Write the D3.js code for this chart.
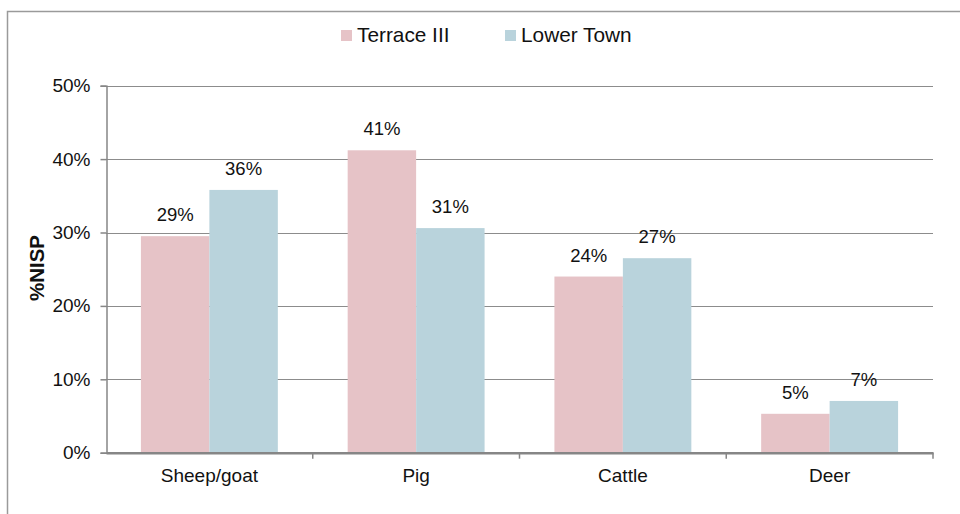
<!DOCTYPE html>
<html>
<head>
<meta charset="utf-8">
<script src="https://cdn.jsdelivr.net/npm/d3@7"></script>
<style>
  body { margin: 0; background: #fff; }
  svg { display: block; font-family: "Liberation Sans", Arial, sans-serif; }
</style>
</head>
<body>
<svg id="chart" width="960" height="514"></svg>
<script>
const categories = ['Sheep/goat', 'Pig', 'Cattle', 'Deer']
const seriesNames = ['Terrace III', 'Lower Town']
const terrace = [29.5, 41.2, 24.0, 5.3]
const lowerTown = [35.8, 30.6, 26.5, 7.05]
const terraceLabels = ['29%', '41%', '24%', '5%']
const lowerLabels = ['36%', '31%', '27%', '7%']
const yTicks = [0, 10, 20, 30, 40, 50]

const colors = ['#e6c3c7', '#b9d3dc']
const svg = d3.select('#chart')

// outer chart frame (runs off the right and bottom edges)
svg.append('rect')
  .attr('x', 7.5).attr('y', 11.5).attr('width', 1000).attr('height', 600)
  .attr('fill', 'none').attr('stroke', '#9a9a9a').attr('stroke-width', 1.5)

const plotLeft = 106
const plotRight = 933
const plotTop = 85.7
const plotBottom = 452.7

const x = d3.scaleBand().domain(categories).range([plotLeft, plotRight]).paddingInner(0).paddingOuter(0)
const x1 = d3.scaleBand().domain(seriesNames).range([0, x.bandwidth()]).paddingInner(0).paddingOuter(0.51)
const y = d3.scaleLinear().domain([0, 50]).range([plotBottom, plotTop])

// gridlines
svg.append('g')
  .selectAll('line')
  .data(yTicks.filter(d => d > 0))
  .enter().append('line')
  .attr('x1', plotLeft).attr('x2', plotRight)
  .attr('y1', d => Math.round(y(d)) + 0.5).attr('y2', d => Math.round(y(d)) + 0.5)
  .attr('stroke', '#8c8c8c').attr('stroke-width', 1)

// bars
const rows = categories.map((c, i) => ({ cat: c, vals: [terrace[i], lowerTown[i]], labels: [terraceLabels[i], lowerLabels[i]] }))
const groups = svg.append('g').selectAll('g')
  .data(rows).enter().append('g')
  .attr('transform', d => `translate(${x(d.cat)},0)`)

groups.selectAll('rect')
  .data(d => d.vals.map((v, j) => ({ s: seriesNames[j], v, j })))
  .enter().append('rect')
  .attr('x', d => x1(d.s))
  .attr('width', x1.bandwidth())
  .attr('y', d => y(d.v))
  .attr('height', d => y(0) - y(d.v))
  .attr('fill', d => colors[d.j])

groups.selectAll('text')
  .data(d => d.vals.map((v, j) => ({ s: seriesNames[j], v, label: d.labels[j] })))
  .enter().append('text')
  .attr('x', d => x1(d.s) + x1.bandwidth() / 2)
  .attr('y', d => y(d.v) - 15)
  .attr('text-anchor', 'middle')
  .attr('font-size', 18.5)
  .attr('fill', '#111')
  .text(d => d.label)

// y axis
const yAxis = svg.append('g')
  .attr('transform', `translate(${plotLeft + 0.5},0)`)
  .call(d3.axisLeft(y).tickValues(yTicks).tickFormat(d => d + '%').tickSize(6).tickPadding(10))
yAxis.select('.domain').attr('stroke', '#868686').attr('stroke-width', 1.5)
yAxis.selectAll('.tick line').attr('stroke', '#868686').attr('stroke-width', 1.5)
yAxis.selectAll('.tick text').attr('font-size', 19).attr('fill', '#111').attr('font-family', null)

// x axis
const xAxis = svg.append('g')
  .attr('transform', `translate(0,${plotBottom})`)
  .call(d3.axisBottom(x).tickSize(0).tickPadding(16))
xAxis.select('.domain').attr('stroke', '#868686').attr('stroke-width', 2.5)
xAxis.selectAll('.tick text').attr('font-size', 19).attr('fill', '#111').attr('font-family', null)
xAxis.selectAll('line.sep')
  .data(categories.map(c => x(c) + x.bandwidth()))
  .enter().append('line').attr('class', 'sep')
  .attr('x1', d => d).attr('x2', d => d)
  .attr('y1', 0).attr('y2', 6)
  .attr('stroke', '#868686').attr('stroke-width', 1.5)

// y axis title
svg.append('text')
  .attr('transform', 'translate(44,268) rotate(-90)')
  .attr('text-anchor', 'middle')
  .attr('font-size', 20.5).attr('font-weight', 'bold').attr('fill', '#111')
  .text('%NISP')

// legend
const legendX = [341, 505]
const legend = svg.append('g').selectAll('g')
  .data(seriesNames).enter().append('g')
  .attr('transform', (d, i) => `translate(${legendX[i]},30)`)
legend.append('rect').attr('width', 11).attr('height', 11).attr('fill', (d, i) => colors[i])
legend.append('text').attr('x', 16).attr('y', 11.5).attr('font-size', 20.8).attr('fill', '#111').text(d => d)
</script>
</body>
</html>
